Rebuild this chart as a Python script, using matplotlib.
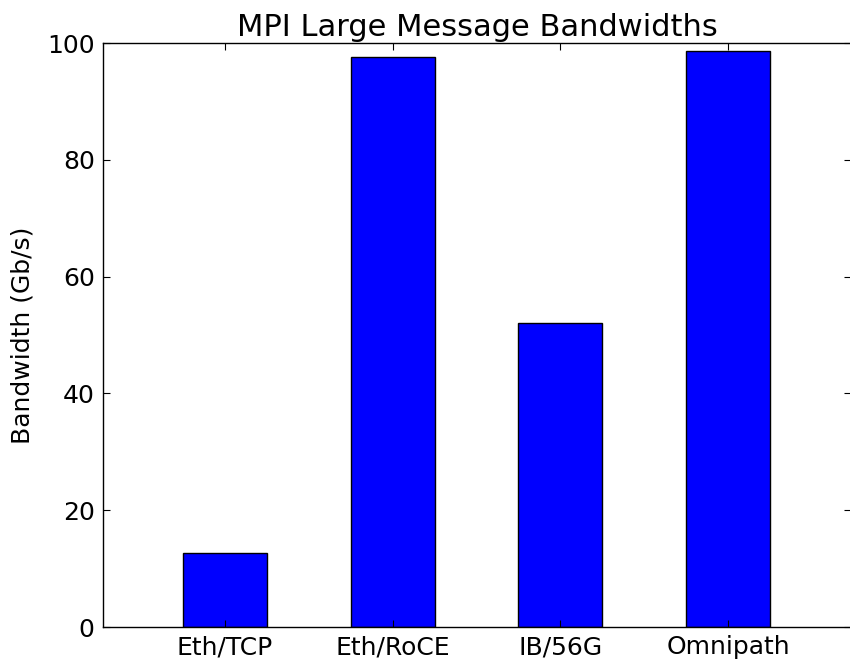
import matplotlib
matplotlib.use("Agg")
import matplotlib.pyplot as plt
from matplotlib.transforms import Bbox
import numpy as np

plt.rcParams["savefig.bbox"] = "standard"

categories = ["Eth/TCP", "Eth/RoCE", "IB/56G", "Omnipath"]
bandwidths = [12.6, 97.6, 52.0, 98.6]
yticks = [0, 20, 40, 60, 80, 100]

W, H = 8.5, 6.61
fig = plt.figure(figsize=(W, H), dpi=100)
# axes right spine sits just past the right edge of the figure, as in the reference
unit = 167.7 / 850.0
xlo, xhi = -0.727, 3.735
ax = fig.add_axes([0.1212, 0.0514, unit * (xhi - xlo), 0.8835])
x = np.arange(len(categories))
ax.bar(x, bandwidths, width=0.5, color="#0000ff", edgecolor="black", linewidth=1.0)
ax.set_xlim(xlo, xhi)
ax.set_ylim(0, 100)
ax.set_xticks(x)
ax.set_xticklabels(categories, fontsize=18)
ax.set_yticks(yticks)
ax.set_yticklabels([str(v) for v in yticks], fontsize=18)
ax.tick_params(direction="in", top=True, right=True, length=5, width=0.8, pad=6)
ax.set_ylabel("Bandwidth (Gb/s)", fontsize=18, labelpad=9)
ax.set_title("MPI Large Message Bandwidths", fontsize=22, pad=5)
for s in ax.spines.values():
    s.set_linewidth(1.0)
fig.savefig("out.png", dpi=100, bbox_inches=Bbox([[0, 0], [W, H]]))
